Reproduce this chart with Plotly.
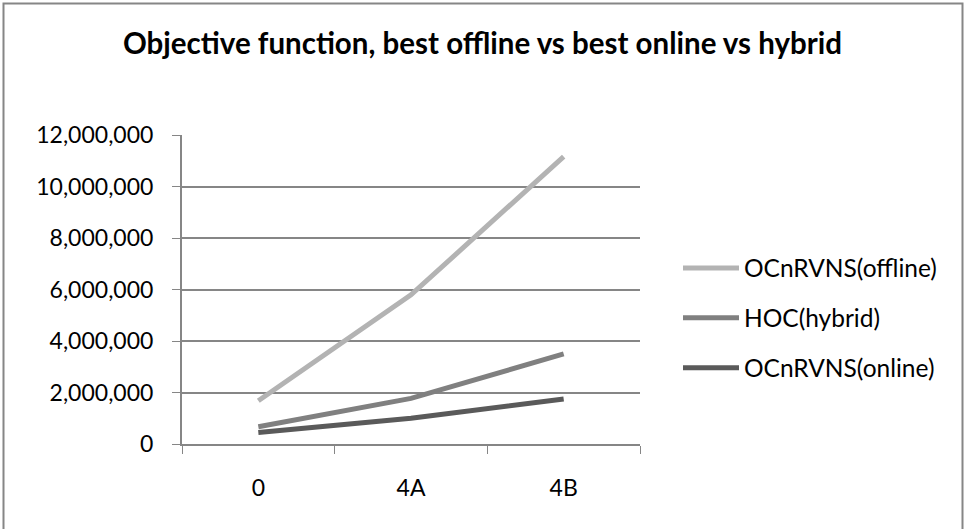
import plotly.graph_objects as go

categories = ["0", "4A", "4B"]
offline = [1680000, 5790000, 11160000]
hybrid = [670000, 1770000, 3500000]
online = [450000, 1000000, 1750000]

series_names = ["OCnRVNS(offline)", "HOC(hybrid)", "OCnRVNS(online)"]
series_values = [offline, hybrid, online]
series_colors = ["#B3B3B3", "#808080", "#5A5A5A"]

W, H = 965, 529
ML, MR, MT, MB = 182, 325, 135, 85
PW, PH = W - ML - MR, H - MT - MB

def px_x(p):
    return (p - ML) / PW

def px_y(p):
    return (H - MB - p) / PH

FONT = "Lato, Open Sans, sans-serif"

fig = go.Figure()
for i, (name, vals, col) in enumerate(zip(series_names, series_values, series_colors)):
    fig.add_trace(go.Scatter(
        x=categories, y=vals, name=name, mode="lines",
        line=dict(color=col, width=5),
        legendgroup=f"g{i}",
    ))

fig.update_layout(
    width=W, height=H,
    margin=dict(l=ML, r=MR, t=MT, b=MB),
    paper_bgcolor="white", plot_bgcolor="white",
    font=dict(family=FONT, size=23, color="black"),
    title=dict(
        text="<b>Objective function, best offline vs best online vs hybrid</b>",
        x=px_x(482.5), xref="paper", xanchor="center",
        y=1 - 44 / H, yref="container", yanchor="middle",
        font=dict(family=FONT, size=29.5, color="black"),
    ),
    showlegend=True,
    legend=dict(
        x=px_x(678), xanchor="left", y=px_y(318), yanchor="middle",
        font=dict(family=FONT, size=24.5, color="black"),
        tracegroupgap=15, itemwidth=56,
        bgcolor="rgba(0,0,0,0)",
    ),
    xaxis=dict(
        type="category", range=[-0.5, 2.5],
        tickson="boundaries", ticks="outside", ticklen=8, tickcolor="#868686",
        showline=True, linecolor="#868686", linewidth=2,
        showgrid=False, ticklabelstandoff=22,
        tickfont=dict(family=FONT, size=23, color="black"),
    ),
    yaxis=dict(
        range=[0, 12000000], dtick=2000000, tickformat=",",
        ticks="outside", ticklen=8, tickcolor="#868686",
        showline=True, linecolor="#868686", linewidth=2,
        showgrid=True, gridcolor="#868686", gridwidth=1.5,
        zeroline=False, ticklabelstandoff=14,
        tickfont=dict(family=FONT, size=23, color="black"),
    ),
    shapes=[dict(
        type="rect", xref="paper", yref="paper",
        x0=px_x(3.5), x1=px_x(962.5), y0=px_y(535), y1=px_y(3.5),
        line=dict(color="#868686", width=2), fillcolor="rgba(0,0,0,0)",
        layer="below",
    )],
)

fig.write_html("out.html")
